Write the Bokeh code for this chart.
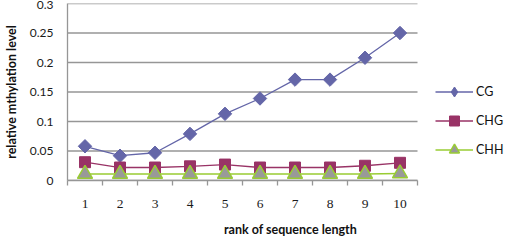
import numpy as np
from bokeh.plotting import figure
from bokeh.models import Range1d, FixedTicker, Legend, LegendItem
from bokeh.embed import file_html
from bokeh.resources import INLINE

# ---- data ----
ranks = [1, 2, 3, 4, 5, 6, 7, 8, 9, 10]
cg = [0.058, 0.042, 0.047, 0.079, 0.113, 0.139, 0.171, 0.171, 0.208, 0.250]
chg = [0.031, 0.022, 0.022, 0.024, 0.027, 0.022, 0.022, 0.022, 0.025, 0.030]
chh = [0.011, 0.011, 0.011, 0.011, 0.011, 0.011, 0.011, 0.011, 0.011, 0.012]
yticks = [0, 0.05, 0.1, 0.15, 0.2, 0.25, 0.3]
ytick_labels = ["0", "0.05", "0.1", "0.15", "0.2", "0.25", "0.3"]
series_names = ["CG", "CHG", "CHH"]

GRID = "#969696"
W, H = 513, 241
LEFT, TOP, BOTTOM = 67, 3, 61
x_lo = ranks[0] - 0.5
x_hi = ranks[-1] + 0.5
px_per_cat = 35.0
x_end = x_lo + (W - LEFT) / px_per_cat  # room on the right for the legend

p = figure(width=W, height=H, output_backend="svg", toolbar_location=None,
           x_range=Range1d(x_lo, x_end),
           y_range=Range1d(yticks[0], yticks[-1]),
           min_border_top=TOP, min_border_left=LEFT, min_border_right=0,
           min_border_bottom=BOTTOM)
p.outline_line_color = None
p.background_fill_color = None
p.border_fill_color = None
p.xgrid.grid_line_color = None
p.ygrid.grid_line_color = None

# horizontal gridlines limited to the category span
p.segment(x0=[x_lo] * len(yticks), x1=[x_hi] * len(yticks), y0=yticks, y1=yticks,
          line_color=GRID, line_width=1.3)

# y axis
ya = p.yaxis[0]
ya.ticker = FixedTicker(ticks=yticks)
ya.major_label_overrides = {t: l for t, l in zip(yticks, ytick_labels)}
ya.major_tick_out = 0
ya.major_tick_in = 0
ya.minor_tick_out = 0
ya.minor_tick_in = 0
ya.major_label_standoff = 14
ya.axis_line_color = GRID
ya.axis_line_width = 1.3
ya.major_label_text_font = "Lato"
ya.major_label_text_font_size = "12px"
ya.major_label_text_color = "#1a1a1a"
ya.axis_label = "relative mthylation level"
ya.axis_label_text_font = "Lato"
ya.axis_label_text_font_style = "bold"
ya.axis_label_text_font_size = "12.5px"
ya.axis_label_text_color = "#111111"
ya.axis_label_standoff = 8

# x axis
xa = p.xaxis[0]
xa.bounds = (x_lo, x_hi)
xa.ticker = FixedTicker(ticks=ranks,
                        minor_ticks=[r - 0.5 for r in ranks] + [x_hi])
xa.major_tick_out = 0
xa.major_tick_in = 0
xa.minor_tick_out = 5
xa.minor_tick_in = 0
xa.minor_tick_line_color = GRID
xa.minor_tick_line_width = 1.3
xa.axis_line_color = GRID
xa.axis_line_width = 1.3
xa.major_label_standoff = 14
xa.major_label_text_font = "Liberation Serif"
xa.major_label_text_font_size = "13.5px"
xa.major_label_text_color = "#1a1a1a"
xa.axis_label = "rank of sequence length"
xa.axis_label_text_font = "Lato"
xa.axis_label_text_font_style = "bold"
xa.axis_label_text_font_size = "12.5px"
xa.axis_label_text_color = "#111111"
xa.axis_label_standoff = 11

# series
CG_C = "#6466A8"
CHG_C = "#993366"
CHH_C = "#99CC33"

l1 = p.line(ranks, cg, line_color=CG_C, line_width=1.3)
m1 = p.scatter(ranks, cg, marker="square", angle=np.pi / 4, size=9.5,
               fill_color=CG_C, line_color=CG_C)
# zero-size diamond used only for the legend swatch (legend ignores angle)
m1_leg = p.scatter(ranks, cg, marker="diamond", size=0,
                   fill_color=CG_C, line_color=CG_C)
l2 = p.line(ranks, chg, line_color=CHG_C, line_width=1.3)
m2 = p.scatter(ranks, chg, marker="square", size=11,
               fill_color=CHG_C, line_color=CHG_C)
l3 = p.line(ranks, chh, line_color=CHH_C, line_width=1.5)
m3 = p.scatter(ranks, chh, marker="triangle", size=15,
               fill_color="#999999", line_color=CHH_C, line_width=1.5)

legend = Legend(items=[LegendItem(label=series_names[0], renderers=[l1, m1_leg]),
                       LegendItem(label=series_names[1], renderers=[l2, m2]),
                       LegendItem(label=series_names[2], renderers=[l3, m3])],
                location=(368, 18), padding=0, margin=0, spacing=4,
                glyph_width=38, glyph_height=25, label_standoff=3,
                label_text_font="Lato", label_text_font_size="12.5px",
                label_text_color="#111111",
                border_line_alpha=0, background_fill_alpha=0)
p.add_layout(legend, "center")

open("out.html", "w").write(file_html(p, INLINE))
